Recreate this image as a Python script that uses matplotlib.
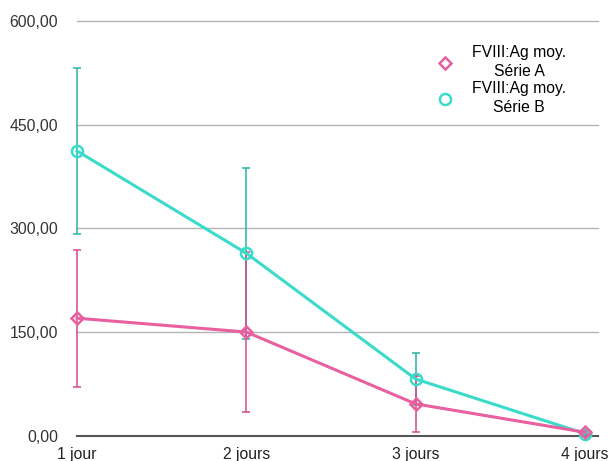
import matplotlib
matplotlib.use("Agg")
import matplotlib.pyplot as plt
import numpy as np

categories = ["1 jour", "2 jours", "3 jours", "4 jours"]
serie_a = [170, 150, 46, 5]
serie_a_err = [99, 116, 40, 3]
serie_b = [412, 264, 82, 3]
serie_b_err = [120, 124, 38, 2]
yticks = [0, 150, 300, 450, 600]
ytick_labels = ["0,00", "150,00", "300,00", "450,00", "600,00"]
labels = ["FVIII:Ag moy.\nSérie A", "FVIII:Ag moy.\nSérie B"]

plt.rcParams['font.family'] = ['Liberation Sans', 'DejaVu Sans']

fig = plt.figure(figsize=(6.09, 4.61), dpi=100)
ax = fig.add_axes([77/609, 1-435.7/461, (598-77)/609, (435.7-21)/461])

x = np.arange(len(categories))
pink = "#E8609F"
pink_err = "#D44A8C"
cyan = "#3ADBCB"
cyan_err = "#2AB3A6"

for yv in yticks[1:]:
    ax.axhline(yv, color="#b5b5b5", lw=1.0, zorder=0)
ax.axhline(0, color="#555555", lw=1.5, zorder=1)

ax.errorbar(x, serie_b, yerr=serie_b_err, fmt='none', ecolor=cyan_err, elinewidth=1.1, capsize=3, capthick=1.1, zorder=2)
ax.errorbar(x, serie_a, yerr=serie_a_err, fmt='none', ecolor=pink_err, elinewidth=1.1, capsize=3, capthick=1.1, zorder=2)
lb, = ax.plot(x, serie_b, color=cyan, lw=2.2, marker='o', markersize=8, markerfacecolor='none', markeredgewidth=1.8, zorder=3, label=labels[1])
la, = ax.plot(x, serie_a, color=pink, lw=2.2, marker='D', markersize=6.5, markerfacecolor='none', markeredgewidth=1.8, zorder=4, label=labels[0])

ax.set_xlim(0, 3.077)
ax.set_ylim(0, 600)
for s in ax.spines.values():
    s.set_visible(False)
ax.set_yticks(yticks)
ax.set_yticklabels(ytick_labels, fontsize=11.3, color="#333333")
ax.set_xticks(x)
ax.set_xticklabels(categories, fontsize=11.3, color="#222222")
ax.tick_params(axis='both', length=0)
ax.tick_params(axis='y', pad=13.5)
ax.tick_params(axis='x', pad=8)
for art in ax.lines:
    art.set_clip_on(False)
for c in ax.collections:
    c.set_clip_on(False)

leg = ax.legend(handles=[la, lb], loc='upper left', bbox_to_anchor=(0.668, 0.975), frameon=False,
                fontsize=11.3, handlelength=0.8, handletextpad=1.3, labelspacing=0.15,
                numpoints=1)
for h in leg.legend_handles:
    h.set_linestyle('none')
for t in leg.get_texts():
    t.set_multialignment('center')
    t.set_linespacing(1.3)

fig.savefig("out.png", dpi=100)
